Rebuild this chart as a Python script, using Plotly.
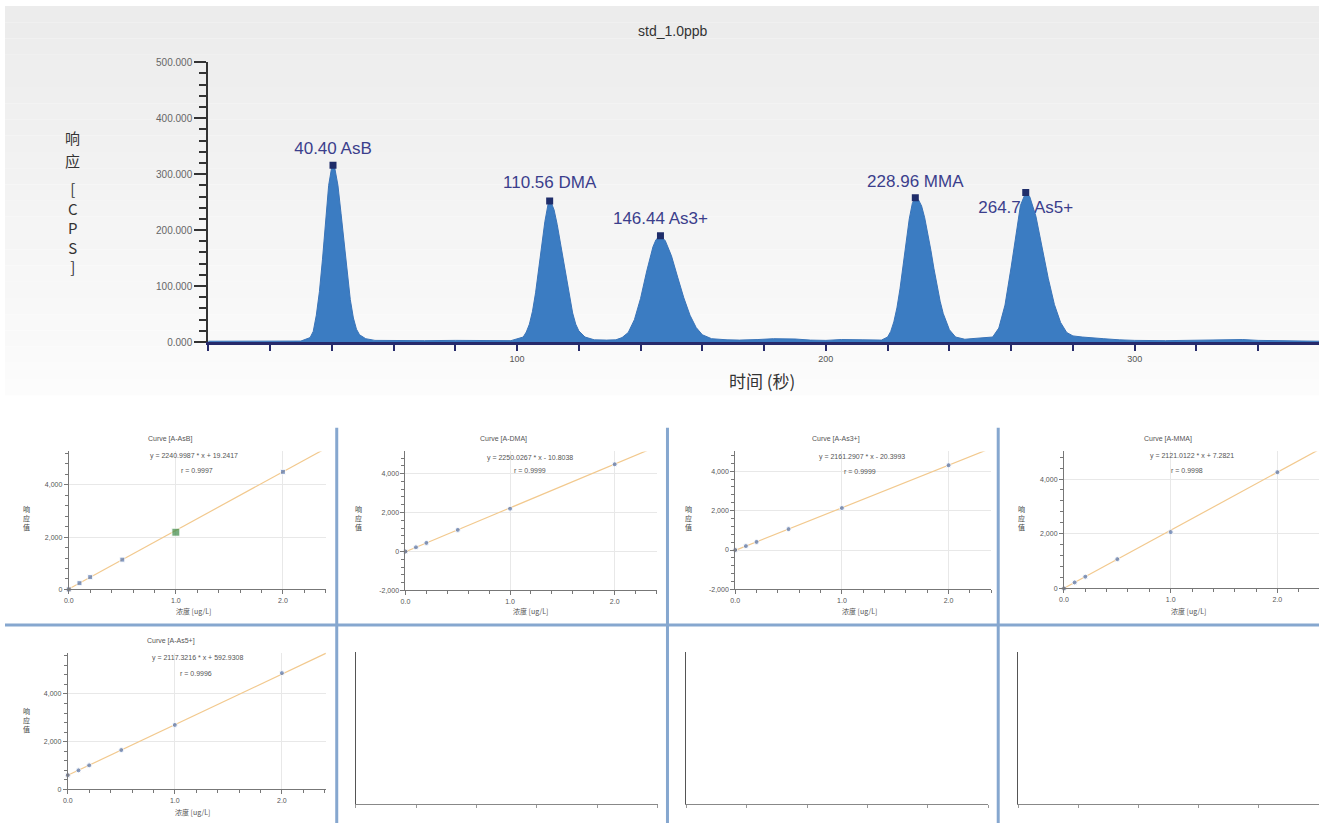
import plotly.graph_objects as go

W, H = 1319, 829
FONT = "Liberation Sans, Arial, Noto Sans CJK SC, sans-serif"

# ---------------- chromatogram (std_1.0ppb) ----------------
chrom_time = [0, 10, 20, 30, 33, 34, 35, 36, 37, 38, 39, 40, 40.4, 41, 42, 43, 44, 45, 46, 47, 48, 49, 51, 54,
              60, 70, 80, 90, 98, 102, 103, 104, 105, 106, 107, 108, 109, 110, 110.56, 111, 112, 113, 114, 115,
              116, 117, 118, 119, 120, 122, 125, 129, 132, 134, 136, 138, 140, 142, 144, 145, 146.44, 148, 150,
              152, 154, 156, 158, 160, 163, 168, 172, 178, 183, 190, 195, 200, 205, 212, 218, 220, 221, 222, 223,
              224, 225, 226, 227, 228, 228.96, 230, 231, 232, 233, 234, 235, 236, 237, 238, 240, 242, 245, 247,
              250, 253, 254, 256, 258, 260, 262, 263, 264.7, 266, 268, 270, 272, 274, 276, 278, 280, 283, 287,
              290, 295, 300, 310, 320, 330, 335, 340, 350, 359.7]
chrom_cps = [1500, 1800, 2200, 1800, 8000, 19000, 48000, 90000, 148000, 218000, 280000, 313000, 316000, 310000,
             280000, 230000, 175000, 120000, 76000, 43000, 23000, 13000, 6000, 3000,
             2500, 2500, 3000, 2000, 2500, 9000, 18000, 32000, 55000, 88000, 128000, 172000, 215000, 245000,
             252000, 250000, 236000, 210000, 178000, 145000,
             110000, 78000, 52000, 32000, 20000, 9000, 4000, 3500, 4000, 8000, 17000, 40000, 78000, 127000,
             170000, 183000, 190000, 181000, 154000,
             116000, 79000, 48000, 26000, 13000, 6000, 4000, 3500, 4500, 6000, 5500, 3500, 3000, 4500, 4000,
             3500, 9000, 19000, 36000, 61000,
             95000, 135000, 180000, 220000, 248000, 258000, 254000, 243000, 222000, 195000, 164000, 131000,
             100000, 73000, 51000, 22000, 9000, 5000, 6000,
             7000, 7500, 9000, 25000, 66000, 134000, 213000, 244000, 267000, 260000, 225000, 171000, 114000,
             67000, 35000, 17000, 11000, 9000, 8000,
             6000, 4000, 3000, 2500, 3000, 4000, 4500, 3000, 2000, 1500]

peak_time = [40.40, 110.56, 146.44, 228.96, 264.72]
peak_cps = [316000, 252000, 190000, 258000, 267000]
peak_label = ["40.40 AsB", "110.56 DMA", "146.44 As3+", "228.96 MMA", "264.72 As5+"]

y_tick_vals = [0, 100000, 200000, 300000, 400000, 500000]
y_tick_text = ["0.000", "100.000", "200.000", "300.000", "400.000", "500.000"]
x_tick_vals = [0, 20, 40, 60, 80, 100, 120, 140, 160, 180, 200, 220, 240, 260, 280, 300, 320, 340]
x_tick_text = ["", "", "", "", "", "100", "", "", "", "", "200", "", "", "", "", "300", "", ""]

# ---------------- calibration curves ----------------
cal_conc = [0, 0.1, 0.2, 0.5, 1.0, 2.0]
resp_asb = [0, 240, 470, 1140, 2190, 4500]
resp_dma = [0, 215, 440, 1110, 2200, 4480]
resp_as3 = [0, 200, 410, 1060, 2130, 4300]
resp_mma = [0, 220, 430, 1070, 2060, 4250]
resp_as5 = [600, 800, 1010, 1650, 2700, 4870]
fit_x = [0, 2.5]
fit_asb = [19, 5621]
fit_dma = [-11, 5614]
fit_as3 = [-20, 5383]
fit_mma = [7, 5310]
fit_as5 = [593, 5886]
curve_titles = ["Curve [A-AsB]", "Curve [A-DMA]", "Curve [A-As3+]", "Curve [A-MMA]", "Curve [A-As5+]"]
curve_eqs = ["y = 2240.9987 * x + 19.2417", "y = 2250.0267 * x - 10.8038", "y = 2161.2907 * x - 20.3993",
             "y = 2121.0122 * x + 7.2821", "y = 2117.3216 * x + 592.9308"]
curve_r = ["r = 0.9997", "r = 0.9999", "r = 0.9999", "r = 0.9998", "r = 0.9996"]
cal_x_ticks = [0, 1, 2]
cal_x_text = ["0.0", "1.0", "2.0"]


def px(x):
    return x / W


def py(y):
    return 1 - y / H


def note(text, x, y, size, color="#555", family=None):
    f = dict(size=size, color=color)
    if family:
        f["family"] = family
    return dict(text=text, x=px(x), y=py(y), xref="paper", yref="paper", showarrow=False,
                xanchor="center", yanchor="middle", align="center", font=f, borderpad=0)


fig = go.Figure()
annotations = []
shapes = []

# background gradient of the chromatogram area
n_bands = 24
for i in range(n_bands):
    y0 = 395 * i / n_bands
    y1 = 395 * (i + 1) / n_bands
    g = int(236 + (252 - 236) * i / (n_bands - 1))
    shapes.append(dict(type="rect", xref="paper", yref="paper", x0=0, x1=1, y0=py(y1), y1=py(y0),
                       fillcolor=f"rgb({g},{g},{g})", line=dict(width=0), layer="below"))

# label offsets (pixels above / below the peak apex) - styling
label_dy_px = [-16, -18, -16, -15, 16]
units_per_px = 500000 / (341 - 57)
label_y = [peak_cps[i] - label_dy_px[i] * units_per_px for i in range(len(peak_cps))]

fig.add_trace(go.Scatter(x=peak_time, y=label_y, mode="text", text=peak_label,
                         textfont=dict(family=FONT, size=17, color="#3b3e8c"),
                         textposition="middle center", xaxis="x", yaxis="y", hoverinfo="skip"))
fig.add_trace(go.Scatter(x=chrom_time, y=chrom_cps, mode="lines", fill="tozeroy",
                         fillcolor="#3b7cc2", line=dict(color="#3a74b8", width=1),
                         xaxis="x", yaxis="y"))
fig.add_trace(go.Scatter(x=peak_time, y=peak_cps, mode="markers",
                         marker=dict(symbol="square", size=7, color="#1f2d6a"),
                         xaxis="x", yaxis="y"))

layout = dict(
    width=W, height=H, margin=dict(l=0, r=0, t=0, b=0), autosize=False,
    paper_bgcolor="white", plot_bgcolor="rgba(0,0,0,0)", showlegend=False,
    font=dict(family=FONT),
    xaxis=dict(domain=[px(204), 1], range=[0, (1319 - 204) / 3.1], showline=True, linecolor="#262a6b",
               linewidth=2.5, ticks="outside", ticklen=6, tickwidth=1.5, tickcolor="#262a6b",
               tickmode="array", tickvals=x_tick_vals, ticktext=x_tick_text,
               tickfont=dict(size=9, color="#555"), showgrid=False, zeroline=False, anchor="y"),
    yaxis=dict(domain=[py(341), py(57)], range=[0, 500000], showline=True, linecolor="#333",
               linewidth=2, ticks="outside", ticklen=12, tickwidth=2, tickcolor="#333",
               tickmode="array", tickvals=y_tick_vals, ticktext=y_tick_text,
               tickfont=dict(size=10, color="#666"), showgrid=False, zeroline=False, anchor="x",
               minor=dict(dtick=20000, tick0=0, ticks="outside", ticklen=7, tickwidth=2, tickcolor="#333")),
)

annotations.append(note("std_1.0ppb", 670, 25, 14, "#333"))
annotations.append(note("时间 (秒)", 760, 380, 17, "#333", "Noto Sans CJK SC"))
annotations.append(note("响", 68, 133, 15, "#333", "Noto Sans CJK SC"))
annotations.append(note("应", 68, 157, 15, "#333", "Noto Sans CJK SC"))
annotations.append(note("[<br>C<br>P<br>S<br>]", 68, 225, 15, "#333", "Noto Sans CJK SC"))

# ---------------- small calibration panels ----------------
panels = [
    dict(x0=64, x1=322, xmax=2.4, yb=592, yt=452, ymin=0, ymax=5280, resp=resp_asb, fit=fit_asb,
         ylab_x=22, ylab_y=520, xlab_y=614, tx=166, ty=439, ex=190, ey=457, rx=193, ry=471),
    dict(x0=402, x1=654, xmax=2.4, yb=593, yt=452, ymin=-2000, ymax=5139, resp=resp_dma, fit=fit_dma,
         ylab_x=355, ylab_y=520, xlab_y=614, tx=500, ty=439, ex=527, ey=459, rx=527, ry=471),
    dict(x0=733, x1=990, xmax=2.4, yb=592, yt=452, ymin=-2000, ymax=5000, resp=resp_as3, fit=fit_as3,
         ylab_x=686, ylab_y=520, xlab_y=614, tx=834, ty=439, ex=860, ey=458, rx=858, ry=472),
    dict(x0=1063, x1=1319, xmax=2.39, yb=591, yt=452, ymin=0, ymax=5009, resp=resp_mma, fit=fit_mma,
         ylab_x=1020, ylab_y=520, xlab_y=614, tx=1167, ty=439, ex=1192, ey=457, rx=1186, ry=471),
    dict(x0=63, x1=322, xmax=2.41, yb=795, yt=656, ymin=0, ymax=5732, resp=resp_as5, fit=fit_as5,
         ylab_x=22, ylab_y=724, xlab_y=818, tx=167, ty=644, ex=193, ey=662, rx=192, ry=677),
]

for i, p in enumerate(panels):
    n = i + 2
    xa, ya = f"x{n}", f"y{n}"
    layout[f"xaxis{n}"] = dict(
        domain=[px(p["x0"]), px(p["x1"])], range=[0, p["xmax"]], anchor=ya, showline=True,
        linecolor="#777", linewidth=1, ticks="outside", ticklen=4, tickcolor="#777",
        tickmode="array", tickvals=cal_x_ticks, ticktext=cal_x_text, tickfont=dict(size=7, color="#555"),
        showgrid=True, gridcolor="#e8e8e8", zeroline=False,
        minor=dict(dtick=0.2, tick0=0, ticks="outside", ticklen=3, tickcolor="#777", showgrid=False))
    yt = [v for v in [-2000, 0, 2000, 4000] if v >= p["ymin"]]
    layout[f"yaxis{n}"] = dict(
        domain=[py(p["yb"]), py(p["yt"])], range=[p["ymin"], p["ymax"]], anchor=xa, showline=True,
        linecolor="#777", linewidth=1, ticks="outside", ticklen=4, tickcolor="#777",
        tickmode="array", tickvals=yt, ticktext=[f"{v:,}" for v in yt], tickfont=dict(size=7, color="#555"),
        showgrid=True, gridcolor="#e8e8e8", zeroline=False,
        minor=dict(dtick=400, tick0=0, ticks="outside", ticklen=3, tickcolor="#777", showgrid=False))
    fig.add_trace(go.Scatter(x=fit_x, y=p["fit"], mode="lines", line=dict(color="#f2c98e", width=1.2),
                             xaxis=xa, yaxis=ya, cliponaxis=True))
    colors = ["#4a5a80"] + ["#5574ad"] * 5
    sizes = [5] * 6
    if i == 0:
        colors[4] = "#3b8a45"
        sizes[4] = 8
    fig.add_trace(go.Scatter(x=cal_conc, y=p["resp"], mode="markers",
                             marker=dict(symbol="square" if i == 0 else "circle", size=sizes, color=colors),
                             xaxis=xa, yaxis=ya, cliponaxis=False))
    annotations.append(note(curve_titles[i], p["tx"], p["ty"], 7))
    annotations.append(note(curve_eqs[i], p["ex"], p["ey"], 7))
    annotations.append(note(curve_r[i], p["rx"], p["ry"], 7))
    annotations.append(note("响<br>应<br>值", p["ylab_x"], p["ylab_y"], 7, "#444", "Noto Sans CJK SC"))
    annotations.append(note("浓度 [ug/L]", p["x0"] + 125, p["xlab_y"], 7, "#555", "Noto Sans CJK SC"))

# empty panels
empty = [(352, 655), (684, 987), (1017, 1319)]
for j, (a, b) in enumerate(empty):
    n = 7 + j
    xa, ya = f"x{n}", f"y{n}"
    layout[f"xaxis{n}"] = dict(domain=[px(a), px(b)], range=[0, 5], anchor=ya, showline=True,
                               linecolor="#888", linewidth=1, ticks="outside", ticklen=3, tickcolor="#999",
                               dtick=1, showticklabels=False, showgrid=False, zeroline=False)
    layout[f"yaxis{n}"] = dict(domain=[py(810), py(655)], range=[0, 1], anchor=xa, showline=True,
                               linecolor="#555", linewidth=1, ticks="", showticklabels=False,
                               showgrid=False, zeroline=False)
    fig.add_trace(go.Scatter(x=[], y=[], xaxis=xa, yaxis=ya))

# separators between calibration panels
sep_color = "#86a7cf"
for xs in [333, 665, 997]:
    shapes.append(dict(type="line", xref="paper", yref="paper", x0=px(xs), x1=px(xs), y0=py(428), y1=0,
                       line=dict(color=sep_color, width=3), layer="above"))
shapes.append(dict(type="line", xref="paper", yref="paper", x0=0, x1=1, y0=py(628), y1=py(628),
                   line=dict(color=sep_color, width=3), layer="above"))

layout["annotations"] = annotations
layout["shapes"] = shapes
fig.update_layout(**layout)
fig.write_html("out.html", config={"displayModeBar": False},
               post_script="document.body.style.margin='0';document.body.style.overflow='hidden';")
